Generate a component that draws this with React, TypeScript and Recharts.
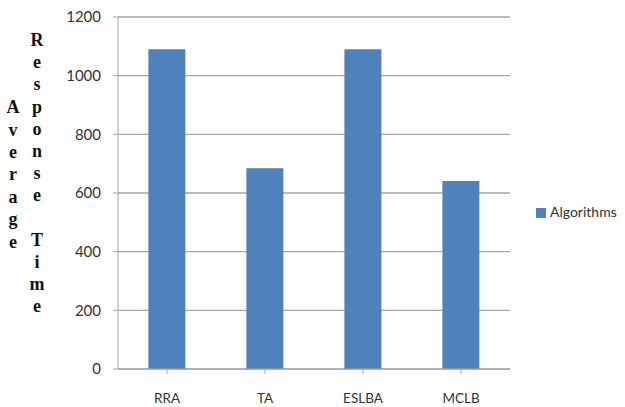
import { BarChart, Bar, XAxis, YAxis, CartesianGrid, Legend } from "recharts";

const algorithms = ["RRA", "TA", "ESLBA", "MCLB"];
const responseTimes = [1090, 684, 1090, 641];
const yTicks = [0, 200, 400, 600, 800, 1000, 1200];

const data = algorithms.map((name, i) => ({
  name,
  Algorithms: responseTimes[i],
}));

const fontFamily = "Lato, 'Open Sans', sans-serif";

// the y-axis title is written one letter per line, in two columns
const AxisTitle = () => {
  const col1 = ["", "", "", "A", "v", "e", "r", "a", "g", "e"];
  const col2 = ["R", "e", "s", "p", "o", "n", "s", "e", "", "T", "i", "m", "e"];
  const style = {
    fontFamily: "'Liberation Serif', 'DejaVu Serif', serif",
    fontWeight: "bold" as const,
    fontSize: 18,
    fill: "#111",
  };
  return (
    <g>
      {col1.map((c, i) =>
        c ? (
          <text key={"a" + i} x={13} y={40 + i * 22.4} textAnchor="middle" dominantBaseline="central" {...style}>
            {c}
          </text>
        ) : null
      )}
      {col2.map((c, i) =>
        c ? (
          <text key={"b" + i} x={37} y={40 + i * 22.2} textAnchor="middle" dominantBaseline="central" {...style}>
            {c}
          </text>
        ) : null
      )}
    </g>
  );
};

export default function App() {
  return (
    <div style={{ position: "absolute", left: 0, top: 0, background: "#fff" }}>
      <BarChart
        width={625}
        height={407}
        data={data}
        margin={{ top: 17, right: 25, bottom: 8, left: 0 }}
        barCategoryGap="31%"
      >
        <CartesianGrid vertical={false} stroke="#a6a6a6" strokeWidth={1.3} />
        <XAxis
          dataKey="name"
          height={30}
          stroke="#a6a6a6"
          tickSize={5}
          tickMargin={19}
          tick={{ fill: "#333", fontSize: 13.5, fontFamily }}
          tickLine={{ stroke: "#a6a6a6" }}
          interval={0}
        />
        <YAxis
          width={118}
          domain={[0, 1200]}
          ticks={yTicks}
          stroke="#a6a6a6"
          tickSize={5}
          tickMargin={12}
          tick={{ fill: "#333", fontSize: 15, fontFamily }}
          label={<AxisTitle />}
        />
        <Legend
          layout="vertical"
          align="right"
          verticalAlign="middle"
          iconType="square"
          iconSize={10}
          wrapperStyle={{ left: 536, right: "auto", top: 203, width: 90, whiteSpace: "nowrap" }}
          formatter={(v) => (
            <span style={{ color: "#333", fontSize: 14, fontFamily, whiteSpace: "nowrap" }}>{v}</span>
          )}
        />
        <Bar dataKey="Algorithms" fill="#4f81bd" isAnimationActive={false} />
      </BarChart>
    </div>
  );
}
